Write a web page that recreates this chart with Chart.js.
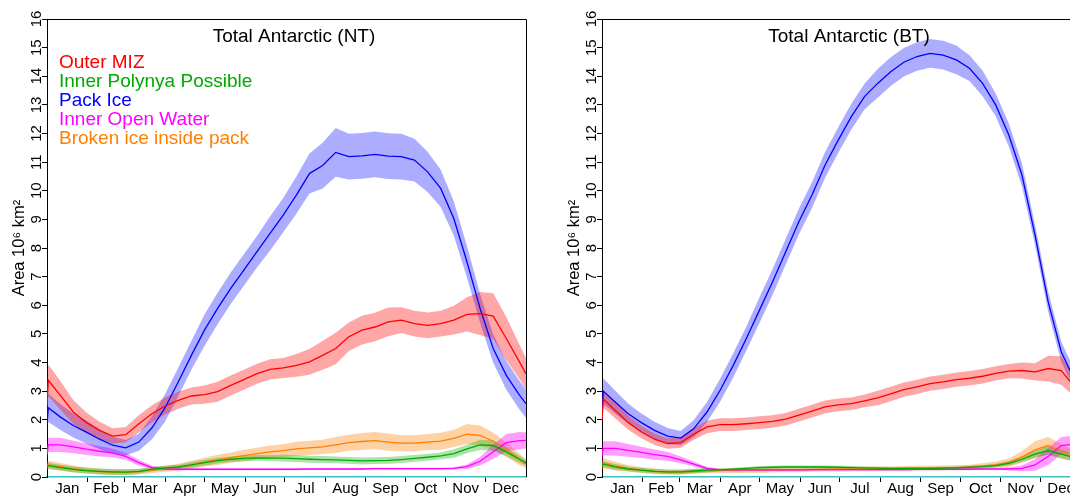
<!DOCTYPE html>
<html><head><meta charset="utf-8">
<script src="https://cdn.jsdelivr.net/npm/chart.js@4.4.0/dist/chart.umd.min.js"></script>
<style>
html,body{margin:0;padding:0;background:#fff;overflow:hidden;width:1070px;height:496px;}
.panel{position:absolute;top:0;width:555px;height:496px;}
#p1{left:0}
#p2{left:555px}
</style></head><body>
<div class="panel" id="p1"><canvas id="c1" width="555" height="496"></canvas></div>
<div class="panel" id="p2"><canvas id="c2" width="555" height="496"></canvas></div>
<script>
// ---------- data (day of year, area in 10^6 km^2) ----------
const days = [0,1,10,20,30,40,50,60,70,80,90,100,110,120,130,140,150,160,170,180,190,200,210,220,230,240,250,260,270,280,290,300,310,320,330,340,350,360,365];
const months = ['Jan','Feb','Mar','Apr','May','Jun','Jul','Aug','Sep','Oct','Nov','Dec'];
const monthStarts = [0,31,59,90,120,151,181,212,243,273,304,334,365];
const yTicks = [0,1,2,3,4,5,6,7,8,9,10,11,12,13,14,15,16];
const seriesNames = ['Outer MIZ','Inner Polynya Possible','Pack Ice','Inner Open Water','Broken ice inside pack'];
const panelTitles = ['Total Antarctic (NT)','Total Antarctic (BT)'];
const yTitle = 'Area 10\u2076 km\u00B2';

// NT panel
const ntOuterMIZ = [2.50,3.38,2.86,2.27,1.90,1.63,1.43,1.48,1.86,2.21,2.48,2.68,2.83,2.88,2.98,3.20,3.40,3.61,3.76,3.81,3.90,4.02,4.25,4.49,4.90,5.13,5.24,5.42,5.48,5.36,5.30,5.36,5.48,5.68,5.71,5.62,4.84,4.02,3.61];
const ntOuterMIZSd = [0.5,0.55,0.5,0.42,0.35,0.3,0.27,0.27,0.3,0.3,0.3,0.3,0.3,0.32,0.35,0.35,0.35,0.35,0.35,0.35,0.4,0.45,0.5,0.55,0.5,0.5,0.5,0.5,0.45,0.45,0.45,0.45,0.5,0.6,0.75,0.8,0.75,0.6,0.55];
const ntPolynya = [0.38,0.40,0.33,0.27,0.22,0.20,0.18,0.17,0.20,0.27,0.32,0.35,0.42,0.50,0.57,0.62,0.65,0.67,0.66,0.66,0.64,0.62,0.61,0.60,0.58,0.56,0.57,0.58,0.61,0.65,0.69,0.74,0.82,0.98,1.12,1.10,0.88,0.62,0.50];
const ntPolynyaSd = [0.1,0.1,0.1,0.1,0.1,0.1,0.1,0.1,0.08,0.08,0.08,0.08,0.1,0.1,0.1,0.1,0.1,0.1,0.1,0.12,0.12,0.12,0.12,0.12,0.12,0.12,0.12,0.12,0.12,0.12,0.12,0.12,0.15,0.15,0.18,0.18,0.15,0.12,0.1];
const ntPackIce = [1.85,2.42,2.10,1.80,1.57,1.32,1.11,1.02,1.22,1.72,2.42,3.32,4.25,5.13,5.89,6.59,7.23,7.87,8.51,9.15,9.85,10.60,10.88,11.34,11.19,11.22,11.27,11.21,11.19,11.07,10.66,10.08,9.03,7.52,5.89,4.49,3.55,2.86,2.56];
const ntPackIceSd = [0.45,0.5,0.45,0.42,0.4,0.35,0.3,0.27,0.3,0.4,0.48,0.5,0.5,0.55,0.55,0.55,0.55,0.55,0.6,0.6,0.65,0.7,0.8,0.85,0.8,0.8,0.8,0.8,0.8,0.75,0.7,0.65,0.6,0.55,0.5,0.5,0.5,0.5,0.5];
const ntOpenWater = [0.80,1.12,1.12,1.05,0.97,0.90,0.84,0.72,0.50,0.33,0.28,0.27,0.27,0.27,0.27,0.27,0.27,0.27,0.27,0.27,0.27,0.28,0.28,0.28,0.28,0.28,0.29,0.29,0.29,0.29,0.29,0.29,0.30,0.36,0.55,0.88,1.20,1.27,1.28];
const ntOpenWaterSd = [0.2,0.25,0.25,0.22,0.2,0.18,0.15,0.12,0.1,0.06,0.04,0.03,0.03,0.03,0.03,0.03,0.03,0.03,0.03,0.03,0.03,0.03,0.03,0.03,0.03,0.03,0.03,0.03,0.03,0.03,0.03,0.03,0.04,0.08,0.15,0.25,0.3,0.3,0.28];
const ntBroken = [0.40,0.42,0.36,0.28,0.23,0.19,0.17,0.17,0.19,0.24,0.28,0.34,0.42,0.52,0.60,0.68,0.75,0.82,0.88,0.92,0.98,1.02,1.05,1.12,1.20,1.24,1.27,1.22,1.18,1.18,1.22,1.25,1.35,1.50,1.45,1.25,0.95,0.62,0.45];
const ntBrokenSd = [0.15,0.15,0.13,0.12,0.1,0.1,0.1,0.1,0.1,0.1,0.1,0.12,0.15,0.15,0.18,0.18,0.2,0.2,0.22,0.22,0.25,0.25,0.25,0.28,0.28,0.3,0.3,0.3,0.28,0.28,0.28,0.3,0.3,0.35,0.35,0.3,0.25,0.2,0.15];

// BT panel
const btOuterMIZ = [2.00,2.72,2.33,1.90,1.57,1.32,1.17,1.20,1.50,1.75,1.83,1.83,1.86,1.90,1.94,2.02,2.16,2.30,2.45,2.52,2.56,2.66,2.76,2.90,3.05,3.15,3.26,3.32,3.40,3.45,3.52,3.62,3.70,3.72,3.67,3.79,3.72,3.15,3.00];
const btOuterMIZSd = [0.25,0.3,0.28,0.25,0.22,0.2,0.18,0.18,0.2,0.22,0.22,0.22,0.22,0.22,0.22,0.22,0.22,0.22,0.22,0.22,0.22,0.22,0.25,0.25,0.25,0.25,0.25,0.25,0.25,0.25,0.25,0.25,0.25,0.28,0.3,0.45,0.5,0.35,0.3];
const btPolynya = [0.40,0.45,0.35,0.28,0.24,0.20,0.18,0.18,0.21,0.24,0.25,0.27,0.30,0.33,0.34,0.35,0.35,0.35,0.35,0.34,0.33,0.32,0.31,0.30,0.30,0.30,0.30,0.31,0.32,0.34,0.36,0.40,0.48,0.62,0.80,0.92,0.80,0.68,0.62];
const btPolynyaSd = [0.1,0.1,0.1,0.08,0.08,0.08,0.08,0.08,0.08,0.08,0.05,0.05,0.05,0.05,0.05,0.05,0.05,0.05,0.05,0.05,0.05,0.05,0.05,0.05,0.05,0.05,0.05,0.05,0.05,0.05,0.06,0.06,0.08,0.1,0.12,0.15,0.15,0.12,0.1];
const btPackIce = [2.20,3.00,2.62,2.21,1.90,1.63,1.43,1.36,1.69,2.27,3.03,3.90,4.84,5.83,6.82,7.87,8.92,9.85,10.90,11.77,12.59,13.29,13.75,14.16,14.49,14.69,14.80,14.74,14.57,14.28,13.75,13.00,11.95,10.55,8.45,6.12,4.37,3.40,3.05];
const btPackIceSd = [0.35,0.45,0.4,0.35,0.32,0.3,0.28,0.25,0.3,0.35,0.4,0.42,0.42,0.45,0.45,0.45,0.45,0.45,0.45,0.45,0.45,0.45,0.5,0.5,0.5,0.5,0.5,0.5,0.5,0.45,0.45,0.4,0.4,0.4,0.35,0.35,0.35,0.35,0.35];
const btOpenWater = [0.75,1.00,1.00,0.93,0.86,0.78,0.72,0.60,0.45,0.30,0.25,0.25,0.25,0.25,0.25,0.25,0.25,0.26,0.26,0.26,0.26,0.26,0.26,0.26,0.26,0.27,0.27,0.27,0.27,0.27,0.28,0.28,0.28,0.30,0.42,0.72,1.10,1.15,1.15];
const btOpenWaterSd = [0.2,0.25,0.25,0.22,0.2,0.18,0.15,0.12,0.08,0.05,0.03,0.03,0.03,0.03,0.03,0.03,0.03,0.03,0.03,0.03,0.03,0.03,0.03,0.03,0.03,0.03,0.03,0.03,0.03,0.03,0.03,0.03,0.05,0.1,0.2,0.3,0.3,0.3,0.3];
const btBroken = [0.42,0.48,0.38,0.30,0.24,0.20,0.17,0.17,0.19,0.21,0.22,0.22,0.23,0.23,0.24,0.25,0.25,0.26,0.27,0.27,0.28,0.28,0.29,0.29,0.30,0.31,0.31,0.32,0.33,0.35,0.38,0.42,0.50,0.70,0.95,1.10,0.90,0.72,0.65];
const btBrokenSd = [0.15,0.18,0.15,0.12,0.1,0.1,0.08,0.08,0.08,0.08,0.08,0.08,0.08,0.08,0.08,0.08,0.08,0.08,0.08,0.08,0.08,0.08,0.08,0.08,0.08,0.08,0.08,0.08,0.08,0.08,0.1,0.12,0.15,0.2,0.3,0.3,0.25,0.2,0.2];

// ---------- styles ----------
const lineColors = ['#ff0000','#00aa00','#0000ff','#ff00ff','#ff7f00'];
const bandColors = ['rgba(255,0,0,0.35)','rgba(0,170,0,0.33)','rgba(0,0,255,0.32)','rgba(255,0,255,0.38)','rgba(255,127,0,0.35)'];
const FONT = '"Liberation Sans", Arial, Helvetica, sans-serif';

function pts(vals, sd, sign) {
  return days.map((d, i) => ({x: d, y: vals[i] + sign * (sd ? sd[i] : 0)}));
}

function buildDatasets(series) {
  const bands = [], lines = [];
  series.forEach((s, k) => {
    bands.push({data: pts(s[0], s[1], -1), borderWidth: 0, borderColor: 'rgba(0,0,0,0)', pointRadius: 0, fill: false, order: 2, tension: 0});
    bands.push({data: pts(s[0], s[1], 1), borderWidth: 0, borderColor: 'rgba(0,0,0,0)', pointRadius: 0, fill: '-1', backgroundColor: bandColors[k], order: 2, tension: 0});
  });
  series.forEach((s, k) => {
    lines.push({label: seriesNames[k], data: pts(s[0], null, 0), borderColor: lineColors[k], borderWidth: 1.3, pointRadius: 0, fill: false, order: 1, tension: 0});
  });
  return bands.concat(lines);
}

const decor = {
  id: 'decor',
  afterDraw(chart, args, opts) {
    const {ctx, chartArea: a} = chart;
    ctx.save();
    ctx.strokeStyle = '#000';
    ctx.lineWidth = 1;
    ctx.beginPath();
    ctx.moveTo(a.left, a.top + 0.5); ctx.lineTo(a.right + 0.5, a.top + 0.5);
    ctx.lineTo(a.right + 0.5, a.bottom);
    ctx.stroke();
    ctx.font = '19px ' + FONT;
    ctx.fillStyle = '#000';
    ctx.textAlign = 'center';
    ctx.textBaseline = 'alphabetic';
    ctx.fillText(opts.title, a.left + 247, 41.5);
    if (opts.legend) {
      ctx.textAlign = 'left';
      seriesNames.forEach((n, k) => {
        ctx.fillStyle = lineColors[k];
        ctx.fillText(n, a.left + 12, 68 + 19 * k);
      });
    }
    ctx.restore();
  }
};

function makePanel(id, title, series, legend) {
  return new Chart(document.getElementById(id), {
    type: 'line',
    data: {datasets: buildDatasets(series)},
    plugins: [decor],
    options: {
      responsive: false, animation: false, devicePixelRatio: 1,
      layout: {padding: {left: 0, top: 19, right: 29, bottom: 0}},
      plugins: {legend: {display: false}, tooltip: {enabled: false}, title: {display: false}, decor: {title, legend}},
      scales: {
        x: {
          type: 'linear', min: 0, max: 365,
          afterFit(s) { s.height = 19; },
          afterBuildTicks(s) {
            const t = [];
            monthStarts.slice(1, 12).forEach(v => t.push({value: v}));
            months.forEach((m, i) => t.push({value: (monthStarts[i] + monthStarts[i + 1]) / 2}));
            t.sort((p, q) => p.value - q.value);
            s.ticks = t;
          },
          ticks: {
            autoSkip: false, maxRotation: 0, minRotation: 0, padding: -2, color: '#000',
            font: {family: FONT, size: 15},
            callback(v) {
              const i = monthStarts.findIndex((m, j) => j < 12 && Math.abs((m + monthStarts[j + 1]) / 2 - v) < 0.01);
              return i >= 0 ? months[i] : '';
            }
          },
          grid: {
            drawOnChartArea: false, tickLength: 5,
            tickColor(c) { return monthStarts.includes(c.tick.value) ? '#000' : 'rgba(0,0,0,0)'; }
          },
          border: {color: '#3dbdbd', width: 1.5}
        },
        y: {
          min: 0, max: 16,
          afterFit(s) { s.width = 47; },
          afterBuildTicks(s) { s.ticks = yTicks.map(v => ({value: v})); },
          ticks: {
            minRotation: 90, maxRotation: 90, crossAlign: 'center', padding: -3, color: '#000',
            font: {family: FONT, size: 15}
          },
          grid: {drawOnChartArea: false, tickLength: 5, tickColor: '#000'},
          border: {color: '#000', width: 1},
          title: {display: true, text: yTitle, color: '#000', font: {family: FONT, size: 16.5}, padding: {top: 10, bottom: 0}}
        }
      }
    }
  });
}

makePanel('c1', panelTitles[0], [
  [ntOuterMIZ, ntOuterMIZSd], [ntPolynya, ntPolynyaSd], [ntPackIce, ntPackIceSd], [ntOpenWater, ntOpenWaterSd], [ntBroken, ntBrokenSd]
], true);
makePanel('c2', panelTitles[1], [
  [btOuterMIZ, btOuterMIZSd], [btPolynya, btPolynyaSd], [btPackIce, btPackIceSd], [btOpenWater, btOpenWaterSd], [btBroken, btBrokenSd]
], false);
</script>
</body></html>
